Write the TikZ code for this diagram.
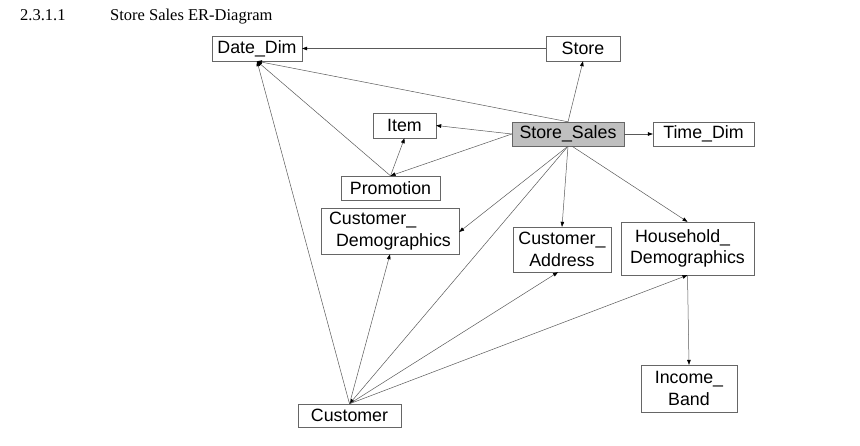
\documentclass[tikz,border=0pt]{standalone}
\usepackage{fontspec}
\setmainfont{Liberation Serif}
\newfontfamily\boxfont{Liberation Sans}
\usetikzlibrary{arrows.meta}

\begin{document}
\begin{tikzpicture}[x=1pt,y=-1pt,
    entity/.style={draw=black!60,fill=white,inner sep=1pt,align=center,
      font=\boxfont\fontsize{17.8}{21.5}\selectfont},
    fact/.style={entity,fill=black!25},
    rel/.style={draw=black!65,line width=0.5pt,-{Triangle[length=5pt,width=3.6pt,color=black]}}]
		\useasboundingbox (0,0) rectangle (860,445);
		
		% heading
		\node (num) [anchor=base west,inner sep=0pt,font=\fontsize{16.5}{18}\selectfont] at (20,20) {2.3.1.1};
		\node (title) [anchor=base west,inner sep=0pt,font=\fontsize{16.5}{18}\selectfont] at (110,20) {Store Sales ER-Diagram};
		
		% entities
		\node (date) [entity,minimum width=90,minimum height=25] at (257,48.5) {Date\_Dim};
		\node (store) [entity,minimum width=74,minimum height=25] at (583,48.5) {Store};
		\node (item) [entity,minimum width=63,minimum height=25] at (404.5,125.5) {Item};
		\node (ss) [fact,minimum width=112,minimum height=24] at (568,134) {Store\_Sales};
		\node (time) [entity,minimum width=101,minimum height=24] at (703.5,134) {Time\_Dim};
		\node (promo) [entity,minimum width=99,minimum height=24] at (390.5,188) {Promotion};
		\node (cd) [entity,align=left,minimum width=138,minimum height=46] at (390,231) {Customer\_\\\hspace{7pt}Demographics};
		\node (ca) [entity,minimum width=98,minimum height=45] at (562,249.5) {Customer\_\\Address};
		\node (hd) [entity,align=left,minimum width=133,minimum height=53] at (687.5,248.5) {\hspace{5pt}Household\_\\Demographics};
		\node (ib) [entity,minimum width=96,minimum height=47] at (689,388.5) {Income\_\\Band};
		\node (cust) [entity,minimum width=103,minimum height=23] at (349.5,415.5) {Customer};
		
		% relationships
		\draw [rel] (store.west) -- (date.east);
		\draw [rel] (ss.north) -- (store.south);
		\draw [rel] (ss.north) -- (date.south);
		\draw [rel] (ss.east) -- (time.west);
		\draw [rel] (ss.west) -- (item.east);
		\draw [rel] (ss.west) -- (promo.north);
		\draw [rel] (promo.north) -- (item.south);
		\draw [rel] (promo.north) -- (date.south);
		\draw [rel] (ss.south) -- ([yshift=-1]cd.east);
		\draw [rel] (ss.south) -- (cust.north);
		\draw [rel] (ss.south) -- (ca.north);
		\draw [rel] ([xshift=4]ss.south) -- (hd.north);
		\draw [rel] (cust.north) -- (date.south);
		\draw [rel] (cust.north) -- (cd.south);
		\draw [rel] (cust.north) -- ([xshift=-4]ca.south);
		\draw [rel] (cust.north) -- (hd.south);
		\draw [rel] (hd.south) -- (ib.north);
		
\end{tikzpicture}
\end{document}
